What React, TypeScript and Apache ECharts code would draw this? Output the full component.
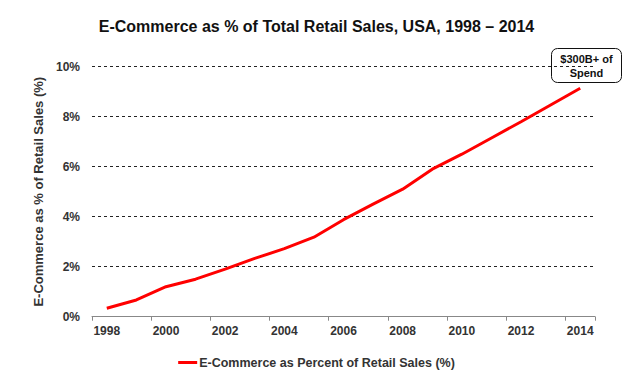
import React, { useEffect, useRef } from "react";
import * as echarts from "echarts";

const years = ["1998","1999","2000","2001","2002","2003","2004","2005","2006","2007","2008","2009","2010","2011","2012","2013","2014"];
const ecomShare = [0.34, 0.67, 1.2, 1.5, 1.9, 2.33, 2.72, 3.18, 3.88, 4.5, 5.1, 5.9, 6.5, 7.15, 7.8, 8.47, 9.14];
const yTicks = [0, 2, 4, 6, 8, 10];
const seriesName = "E-Commerce as Percent of Retail Sales (%)";
const titleText = "E-Commerce as % of Total Retail Sales, USA, 1998 – 2014";
const calloutLines = ["$300B+ of", "Spend"];

const FONT = "'Liberation Sans', Arial, Helvetica, sans-serif";

export default function App() {
  const ref = useRef<HTMLDivElement>(null);
  useEffect(() => {
    if (!ref.current) return;
    const chart = echarts.init(ref.current, null, { renderer: "svg" });
    chart.setOption({
      animation: false,
      backgroundColor: "#ffffff",
      textStyle: { fontFamily: FONT },
      title: {
        text: titleText,
        left: "center",
        top: 13,
        textStyle: { fontFamily: FONT, fontSize: 16, fontWeight: "bold", color: "#111" },
      },
      legend: {
        data: [{ name: seriesName, icon: "rect" }],
        bottom: 14,
        left: "center",
        itemWidth: 19,
        itemHeight: 3,
        textStyle: { fontFamily: FONT, fontSize: 12.5, fontWeight: "bold", color: "#333", padding: [0, 0, 0, -3] },
      },
      grid: { left: 92, right: 38, top: 66.7, bottom: 71.3, containLabel: false },
      xAxis: {
        type: "category",
        data: years,
        boundaryGap: true,
        axisLine: { show: true, lineStyle: { color: "#888", width: 1 } },
        axisTick: { show: true, interval: 1, length: 4, lineStyle: { color: "#888" } },
        axisLabel: { interval: 1, margin: 8, fontFamily: FONT, fontSize: 12, fontWeight: "bold", color: "#333" },
        splitLine: { show: false },
      },
      yAxis: {
        type: "value",
        min: yTicks[0],
        max: yTicks[yTicks.length - 1],
        interval: 2,
        name: "E-Commerce as % of Retail Sales (%)",
        nameLocation: "middle",
        nameGap: 43,
        nameTextStyle: { fontFamily: FONT, fontSize: 13, fontWeight: "bold", color: "#333" },
        axisLine: { show: false },
        axisTick: { show: false },
        axisLabel: { formatter: "{value}%", margin: 12, fontFamily: FONT, fontSize: 12, fontWeight: "bold", color: "#333" },
        splitLine: {
          show: true,
          showMinLine: false,
          lineStyle: { color: "#222", width: 1, type: [3, 3] },
        },
      },
      series: [
        {
          name: seriesName,
          type: "line",
          data: ecomShare,
          symbol: "none",
          lineStyle: { color: "#ff0000", width: 3 },
          itemStyle: { color: "#ff0000" },
        },
      ],
      graphic: [
        {
          type: "group",
          left: 551,
          top: 48,
          children: [
            {
              type: "rect",
              shape: { x: 0, y: 0, width: 70, height: 34, r: 6 },
              style: { fill: "#fff", stroke: "#111", lineWidth: 1 },
            },
            {
              type: "text",
              x: 35,
              y: 17,
              style: {
                text: calloutLines.join("\n"),
                fontFamily: FONT,
                fontSize: 11,
                fontWeight: "bold",
                fill: "#111",
                align: "center",
                verticalAlign: "middle",
                lineHeight: 14,
              },
            },
          ],
        },
      ],
    });
    return () => chart.dispose();
  }, []);
  return <div ref={ref} style={{ position: "fixed", left: 0, top: 0, width: 633, height: 388 }} />;
}
